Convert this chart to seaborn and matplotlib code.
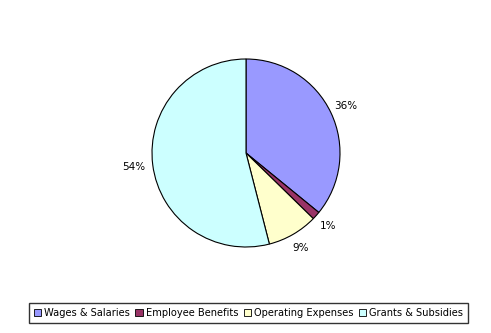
import numpy as np
import matplotlib
matplotlib.use("Agg")
import matplotlib.pyplot as plt
import seaborn as sns
from matplotlib.patches import Rectangle

categories = ["Wages & Salaries", "Employee Benefits", "Operating Expenses", "Grants & Subsidies"]
values = [35.9, 1.4, 8.7, 54.0]
colors = ["#9999FF", "#993366", "#FFFFCC", "#CCFFFF"]
label_dist = [1.17, 1.17, 1.17, 1.20]

sns.set_style("white")
plt.rcParams['font.family'] = ['DejaVu Sans']
plt.rcParams['text.color'] = 'black'
palette = sns.color_palette(colors)

W, H = 491, 333
fig = plt.figure(figsize=(W / 100, H / 100), dpi=100)
cx, cy, r = 246, 153, 94
ax = fig.add_axes([(cx - r) / W, (H - cy - r) / H, 2 * r / W, 2 * r / H])

wedges, _ = ax.pie(values, colors=palette, startangle=90, counterclock=False,
                   wedgeprops=dict(edgecolor="black", linewidth=0.8), radius=1.0)
total = sum(values)
for w, v, d in zip(wedges, values, label_dist):
    ang = np.deg2rad((w.theta1 + w.theta2) / 2)
    ax.text(d * np.cos(ang), d * np.sin(ang), f"{v / total * 100:.0f}%",
            ha="center", va="center", fontsize=7.5, color="black")
ax.set_xlim(-1, 1)
ax.set_ylim(-1, 1)
ax.set_aspect("equal")
ax.axis("off")

handles = [Rectangle((0, 0), 1, 1, facecolor=c, edgecolor="black", linewidth=0.6) for c in palette]
leg = fig.legend(handles, categories, loc="center", ncol=4,
                 bbox_to_anchor=(248.5 / W, 1 - 313 / H), frameon=True, fancybox=False,
                 fontsize=7.1, handlelength=0.75, handleheight=0.75, handletextpad=0.3,
                 columnspacing=0.55, borderpad=0.5, edgecolor="black", borderaxespad=0)
leg.get_frame().set_linewidth(1.0)
for t in leg.get_texts():
    t.set_color("black")

fig.savefig("out.png", dpi=100, facecolor="white")
